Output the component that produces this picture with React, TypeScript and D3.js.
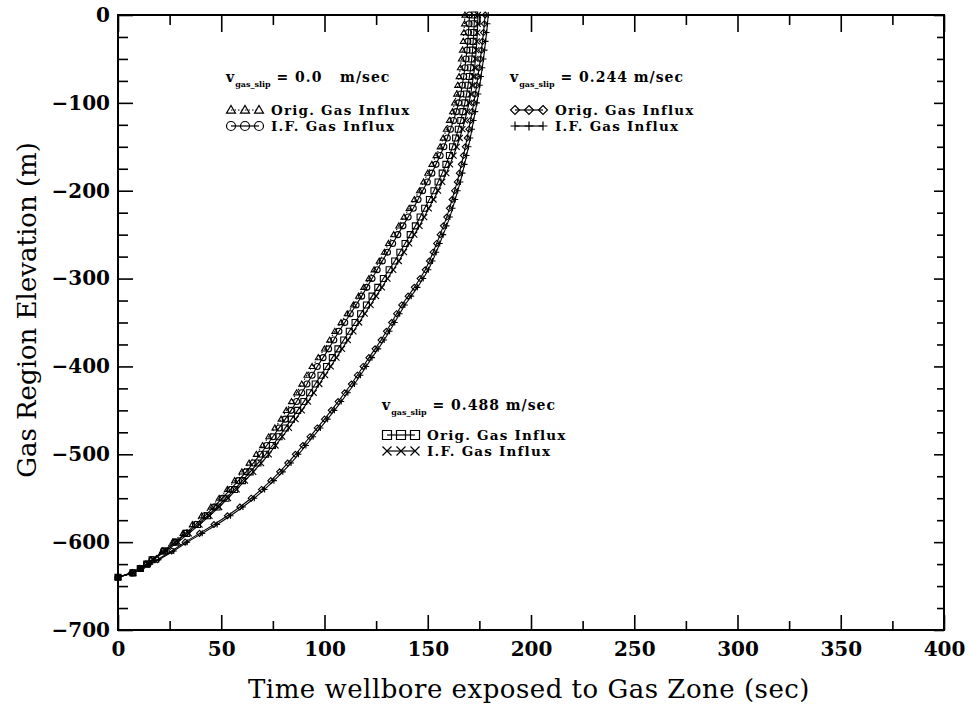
import React, { useEffect, useRef } from 'react';
import * as d3 from 'd3';

const W = 971;
const H = 706;
const margin = { top: 15, right: 27, bottom: 76, left: 118 };

// elevation of the gas region (m), shared by every series
const elevation = [-640, -635, -630, -625, -620, -610, -600, -590, -580, -570, -560, -550, -540, -530, -520, -510, -500, -490, -480, -470, -460, -450, -440, -430, -420, -410, -400, -390, -380, -370, -360, -350, -340, -330, -320, -310, -300, -290, -280, -270, -260, -250, -240, -230, -220, -210, -200, -190, -180, -170, -160, -150, -140, -130, -120, -110, -100, -90, -80, -70, -60, -50, -40, -30, -20, -10, 0];

// time wellbore exposed (sec)
const slip0Orig = [0, 7, 10.5, 13.5, 16, 21.5, 26.5, 31.5, 36, 40.5, 45, 49, 53, 56.5, 60, 63.5, 67, 70, 73, 76, 79, 81.5, 84, 86.5, 89, 91.5, 94, 97, 100, 102.5, 105, 108, 111, 114, 116.5, 119, 121.5, 124, 126.5, 129, 131, 133.5, 136, 138.5, 141, 143.5, 146, 148, 150, 152, 154, 156, 157.5, 159, 160.5, 162, 163, 164, 164.5, 165.2, 165.8, 166.3, 166.8, 167.2, 167.5, 167.8, 168];
const slip0IF = [0, 7.2, 10.8, 13.9, 16.5, 22, 27.5, 32.5, 37.5, 42, 46.5, 50.5, 54.5, 58.3, 62, 65.5, 69, 72, 75, 78, 81, 83.8, 86.5, 89, 91.5, 94, 96.5, 99.3, 102, 104.5, 107, 109.8, 112.5, 115.3, 118, 120.5, 123, 125.5, 128, 130.5, 133, 135.5, 138, 140.5, 143, 145.3, 147.5, 149.8, 152, 154, 156, 157.8, 159.5, 161, 162.5, 163.8, 165, 166, 166.7, 167.4, 168, 168.5, 169, 169.4, 169.7, 170, 170.2];
const slip244Orig = [0, 6.5, 11, 15, 19, 26, 32.5, 39.5, 46.5, 53, 59, 64.5, 69.5, 74, 78.3, 82.2, 85.9, 89.5, 93, 96.5, 100, 103.3, 106.6, 109.8, 113, 115.9, 118.7, 121.5, 124.5, 127.4, 130, 132.5, 134.9, 137.4, 140.5, 143.5, 146.3, 148.8, 150.8, 152.6, 154.3, 156, 157.6, 159.2, 160.5, 161.8, 163, 164.3, 165.3, 166.3, 167.3, 168.2, 169.1, 169.9, 170.7, 171.5, 172.3, 173, 173.7, 174.3, 174.9, 175.5, 176, 176.5, 177, 177.4, 177.8];
const slip244IF = [0, 6.8, 11.5, 15.6, 19.7, 27, 33.5, 40.8, 48, 54.5, 60.5, 66, 71, 75.5, 79.8, 83.8, 87.4, 91, 94.5, 98, 101.5, 104.8, 108.1, 111.3, 114.5, 117.4, 120.2, 123, 126, 128.9, 131.5, 134, 136.4, 138.9, 142, 145, 147.8, 150.3, 152.3, 154.1, 155.8, 157.5, 159.1, 160.7, 162, 163.3, 164.5, 165.8, 166.8, 167.8, 168.8, 169.7, 170.6, 171.4, 172.2, 173, 173.8, 174.5, 175.2, 175.8, 176.4, 177, 177.5, 178, 178.5, 178.9, 179.3];
const slip488Orig = [0, 7.2, 10.8, 13.9, 16.5, 22.5, 28, 33.3, 38.5, 43.3, 48, 52.3, 56.5, 60.3, 64, 67.8, 71.5, 74.8, 78, 81, 84, 87, 90, 92.8, 95.5, 98.3, 101, 103.8, 106.5, 109.3, 112, 114.8, 117.5, 120.3, 123, 125.8, 128.5, 131.3, 134, 136.5, 139, 141.5, 144, 146.3, 148.5, 150.8, 153, 155, 157, 158.8, 160.5, 162, 163.5, 164.8, 166, 167, 168, 168.8, 169.5, 170.2, 170.8, 171.3, 171.7, 172, 172.3, 172.5, 172.7];
const slip488IF = [0, 7.4, 11.1, 14.3, 17, 23.2, 29, 34.3, 39.5, 44.3, 49, 53.3, 57.5, 61.5, 65.5, 69.3, 73, 76.3, 79.5, 82.8, 86, 89, 92, 94.8, 97.5, 100.3, 103, 105.8, 108.5, 111.3, 114, 116.8, 119.5, 122.3, 125, 127.8, 130.5, 133.3, 136, 138.5, 141, 143.5, 146, 148.3, 150.5, 152.8, 155, 157, 159, 160.8, 162.5, 164, 165.5, 166.8, 168, 169, 170, 170.8, 171.5, 172.1, 172.7, 173.1, 173.5, 173.8, 174, 174.2, 174.3];

const xTicks = [0, 50, 100, 150, 200, 250, 300, 350, 400];
const yTicks = [0, -100, -200, -300, -400, -500, -600, -700];

const series = [
  { times: slip0Orig, marker: 'triangle', dash: '1.5,2.5' },
  { times: slip0IF, marker: 'circle', dash: null },
  { times: slip244Orig, marker: 'diamond', dash: null },
  { times: slip244IF, marker: 'plus', dash: null },
  { times: slip488Orig, marker: 'square', dash: null },
  { times: slip488IF, marker: 'cross', dash: null },
];

const legendGroups = [
  { slip: '0.0   m/sec', x: 226, y: 82, gap: 33, items: [
    { marker: 'triangle', dash: '1.5,2', label: 'Orig. Gas Influx' },
    { marker: 'circle', dash: null, label: 'I.F. Gas Influx' },
  ] },
  { slip: '0.244 m/sec', x: 510, y: 82, gap: 33, items: [
    { marker: 'diamond', dash: null, label: 'Orig. Gas Influx' },
    { marker: 'plus', dash: null, label: 'I.F. Gas Influx' },
  ] },
  { slip: '0.488 m/sec', x: 382, y: 410, gap: 30, items: [
    { marker: 'square', dash: null, label: 'Orig. Gas Influx' },
    { marker: 'cross', dash: null, label: 'I.F. Gas Influx' },
  ] },
];

function markerPath(kind, s) {
  switch (kind) {
    case 'triangle': return `M0,${-s}L${s},${s * 0.7}L${-s},${s * 0.7}Z`;
    case 'circle': return `M${-s},0A${s},${s} 0 1,0 ${s},0A${s},${s} 0 1,0 ${-s},0Z`;
    case 'diamond': return `M0,${-s}L${s},0L0,${s}L${-s},0Z`;
    case 'plus': return `M${-s},0H${s}M0,${-s}V${s}`;
    case 'square': return `M${-s},${-s}H${s}V${s}H${-s}Z`;
    default: return `M${-s},${-s}L${s},${s}M${-s},${s}L${s},${-s}`;
  }
}

const serif = '"DejaVu Serif", serif';

function drawChart(node) {
  const svg = d3.select(node);
  svg.selectAll('*').remove();

  const x = d3.scaleLinear().domain([0, 400]).range([margin.left, W - margin.right]);
  const y = d3.scaleLinear().domain([-700, 0]).range([H - margin.bottom, margin.top]);

  const xMinor = d3.range(25, 400, 50);
  const yMinor = d3.range(-675, 0, 25).filter(function(d) { return d % 100 !== 0; });

  const axisStyle = function(g) {
    g.select('.domain').remove();
    g.selectAll('line').attr('stroke', '#000').attr('stroke-width', 1.6);
    g.selectAll('text')
      .attr('font-family', serif)
      .attr('font-weight', 'bold')
      .attr('font-size', 20)
      .attr('fill', '#000');
  };

  // bottom
  svg.append('g').attr('transform', 'translate(0,' + y(-700) + ')')
    .call(d3.axisBottom(x).tickValues(xTicks).tickSize(-15).tickPadding(12).tickFormat(d3.format('d')))
    .call(axisStyle);
  svg.append('g').attr('transform', 'translate(0,' + y(-700) + ')')
    .call(d3.axisBottom(x).tickValues(xMinor).tickSize(-9).tickFormat(''))
    .call(axisStyle);
  // top
  svg.append('g').attr('transform', 'translate(0,' + y(0) + ')')
    .call(d3.axisTop(x).tickValues(xTicks).tickSize(-17).tickFormat(''))
    .call(axisStyle);
  svg.append('g').attr('transform', 'translate(0,' + y(0) + ')')
    .call(d3.axisTop(x).tickValues(xMinor).tickSize(-10).tickFormat(''))
    .call(axisStyle);
  // left
  svg.append('g').attr('transform', 'translate(' + x(0) + ',0)')
    .call(d3.axisLeft(y).tickValues(yTicks).tickSize(-15).tickPadding(8).tickFormat(d3.format('d')))
    .call(axisStyle);
  svg.append('g').attr('transform', 'translate(' + x(0) + ',0)')
    .call(d3.axisLeft(y).tickValues(yMinor).tickSize(-10).tickFormat(''))
    .call(axisStyle);
  // right
  svg.append('g').attr('transform', 'translate(' + x(400) + ',0)')
    .call(d3.axisRight(y).tickValues(yTicks).tickSize(-10).tickFormat(''))
    .call(axisStyle);
  svg.append('g').attr('transform', 'translate(' + x(400) + ',0)')
    .call(d3.axisRight(y).tickValues(yMinor).tickSize(-7).tickFormat(''))
    .call(axisStyle);

  svg.append('rect')
    .attr('x', x(0)).attr('y', y(0))
    .attr('width', x(400) - x(0)).attr('height', y(-700) - y(0))
    .attr('fill', 'none').attr('stroke', '#000').attr('stroke-width', 2);

  // curves
  const line = d3.line()
    .x(function(d) { return x(d[0]); })
    .y(function(d) { return y(d[1]); });

  series.forEach(function(s) {
    const pts = s.times.map(function(t, i) { return [t, elevation[i]]; });
    svg.append('path')
      .datum(pts)
      .attr('d', line)
      .attr('fill', 'none')
      .attr('stroke', '#000')
      .attr('stroke-width', 1.1)
      .attr('stroke-dasharray', s.dash);
    svg.append('g').selectAll('path')
      .data(pts)
      .enter().append('path')
      .attr('transform', function(d) { return 'translate(' + x(d[0]) + ',' + y(d[1]) + ')'; })
      .attr('d', markerPath(s.marker, 3))
      .attr('fill', 'none')
      .attr('stroke', '#000')
      .attr('stroke-width', 1.1);
  });

  // legend blocks
  legendGroups.forEach(function(g) {
    const t = svg.append('text')
      .attr('x', g.x).attr('y', g.y)
      .attr('font-family', serif)
      .attr('font-weight', 'bold')
      .attr('font-size', 14)
      .attr('letter-spacing', 1)
      .style('white-space', 'pre');
    t.append('tspan').text('v');
    t.append('tspan').attr('dy', 5).attr('font-size', 8).attr('letter-spacing', 0).text('gas_slip');
    t.append('tspan').attr('dy', -5).text(' = ' + g.slip);

    g.items.forEach(function(it, i) {
      const ly = g.y + g.gap + i * 16;
      const xs = [g.x + 5, g.x + 19, g.x + 33];
      svg.append('line')
        .attr('x1', xs[0]).attr('x2', xs[2])
        .attr('y1', ly - 5).attr('y2', ly - 5)
        .attr('stroke', '#000').attr('stroke-width', 1.2)
        .attr('stroke-dasharray', it.dash);
      xs.forEach(function(mx) {
        svg.append('path')
          .attr('transform', 'translate(' + mx + ',' + (ly - 5) + ')')
          .attr('d', markerPath(it.marker, 4.5))
          .attr('fill', 'none').attr('stroke', '#000').attr('stroke-width', 1.2);
      });
      svg.append('text')
        .attr('x', g.x + 45).attr('y', ly)
        .attr('font-family', serif)
        .attr('font-weight', 'bold')
        .attr('font-size', 13.5)
        .attr('letter-spacing', 1.2)
        .text(it.label);
    });
  });

  // axis titles
  svg.append('text')
    .attr('x', 529)
    .attr('y', 698)
    .attr('text-anchor', 'middle')
    .attr('font-family', serif)
    .attr('font-size', 26)
    .attr('letter-spacing', 0.5)
    .text('Time wellbore exposed to Gas Zone (sec)');
  svg.append('text')
    .attr('transform', 'translate(36,310) rotate(-90)')
    .attr('text-anchor', 'middle')
    .attr('font-family', serif)
    .attr('font-size', 26)
    .text('Gas Region Elevation (m)');
}

export default function App() {
  const ref = useRef(null);
  useEffect(function() {
    drawChart(ref.current);
  }, []);
  return (
    <svg
      ref={ref}
      width={W}
      height={H}
      style={{ position: 'absolute', left: 0, top: 0, background: '#fff' }}
    ></svg>
  );
}
